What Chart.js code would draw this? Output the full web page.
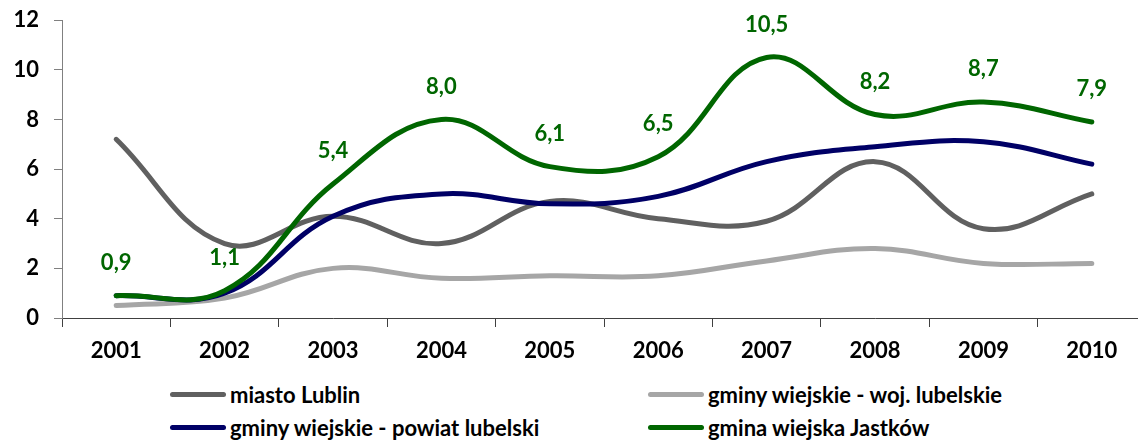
<!DOCTYPE html>
<html>
<head>
<meta charset="utf-8">
<script src="https://cdn.jsdelivr.net/npm/chart.js@4"></script>
<style>
  html, body { margin: 0; padding: 0; background: #fff; overflow: hidden; }
  body { width: 1138px; height: 440px; position: relative; font-family: Lato, "Open Sans", sans-serif; }
  #wrap { position: absolute; left: 0; top: -8px; width: 1150px; height: 378px; }
  .leg { position: absolute; display: flex; align-items: center; height: 26px; font-weight: bold; font-size: 22px; color: #000; white-space: nowrap; }
  .leg i { display: inline-block; width: 56px; height: 5px; border-radius: 3px; margin-right: 4px; }
</style>
</head>
<body>
<div id="wrap"><canvas id="chart"></canvas></div>
<div class="leg" style="left:170px; top:381px;"><i style="background:#606060"></i>miasto Lublin</div>
<div class="leg" style="left:648px; top:381px;"><i style="background:#a6a6a6"></i>gminy wiejskie - woj. lubelskie</div>
<div class="leg" style="left:170px; top:414px;"><i style="background:#000066"></i>gminy wiejskie - powiat lubelski</div>
<div class="leg" style="left:648px; top:414px;"><i style="background:#006600"></i>gmina wiejska Jastków</div>
<script>
// Values
const years = ['2001', '2002', '2003', '2004', '2005', '2006', '2007', '2008', '2009', '2010'];
const lublin = [7.2, 3.0, 4.1, 3.0, 4.7, 4.0, 3.9, 6.3, 3.6, 5.0];
const wojLubelskie = [0.5, 0.8, 2.0, 1.6, 1.7, 1.7, 2.3, 2.8, 2.2, 2.2];
const powiatLubelski = [0.9, 1.0, 4.1, 5.0, 4.6, 4.9, 6.3, 6.9, 7.1, 6.2];
const jastkow = [0.9, 1.1, 5.4, 8.0, 6.1, 6.5, 10.5, 8.2, 8.7, 7.9];
const yTicks = [0, 2, 4, 6, 8, 10, 12];

const FONT = 'Lato, "Open Sans", sans-serif';

// Green value labels above the Jastków line
const valueLabels = {
    id: 'valueLabels',
    afterDatasetsDraw(chart) {
        const ctx = chart.ctx;
        const meta = chart.getDatasetMeta(3);
        ctx.save();
        ctx.font = 'bold 22px ' + FONT;
        ctx.fillStyle = '#006600';
        ctx.textAlign = 'center';
        ctx.textBaseline = 'middle';
        meta.data.forEach((pt, i) => {
            ctx.fillText(jastkow[i].toFixed(1).replace('.', ','), pt.x, pt.y - 33);
        });
        ctx.restore();
    }
};

function line(label, data, color, order) {
    return {
        label, data, order,
        borderColor: color,
        backgroundColor: color,
        borderWidth: 5,
        tension: 0.4,
        pointRadius: 0,
        fill: false,
        borderCapStyle: 'round'
    };
}

new Chart(document.getElementById('chart'), {
    type: 'line',
    data: {
        labels: years,
        datasets: [
            line('miasto Lublin', lublin, '#606060', 2),
            line('gminy wiejskie - woj. lubelskie', wojLubelskie, '#a6a6a6', 3),
            line('gminy wiejskie - powiat lubelski', powiatLubelski, '#000066', 1),
            line('gmina wiejska Jastków', jastkow, '#006600', 0)
        ]
    },
    options: {
        responsive: true,
        maintainAspectRatio: false,
        animation: false,
        layout: { padding: { top: 4, right: 4, left: 0, bottom: 0 } },
        plugins: { legend: { display: false }, tooltip: { enabled: false } },
        scales: {
            x: {
                offset: true,
                afterFit(scale) { scale.height = 52; },
                grid: { offset: true, drawOnChartArea: false, drawTicks: true, tickLength: 9, color: '#404040' },
                border: { display: true, color: '#404040', width: 1 },
                ticks: { color: '#000', padding: 11, font: { family: FONT, size: 22, weight: 'bold' } }
            },
            y: {
                min: 0, max: 12,
                afterFit(scale) { scale.width = 62; },
                afterBuildTicks(scale) { scale.ticks = yTicks.map(v => ({ value: v })); },
                grid: { drawOnChartArea: false, drawTicks: true, tickLength: 8, color: '#808080' },
                border: { display: true, color: '#808080', width: 1 },
                ticks: { color: '#000', padding: 15, font: { family: FONT, size: 22, weight: 'bold' } }
            }
        }
    },
    plugins: [valueLabels]
});
</script>
</body>
</html>
